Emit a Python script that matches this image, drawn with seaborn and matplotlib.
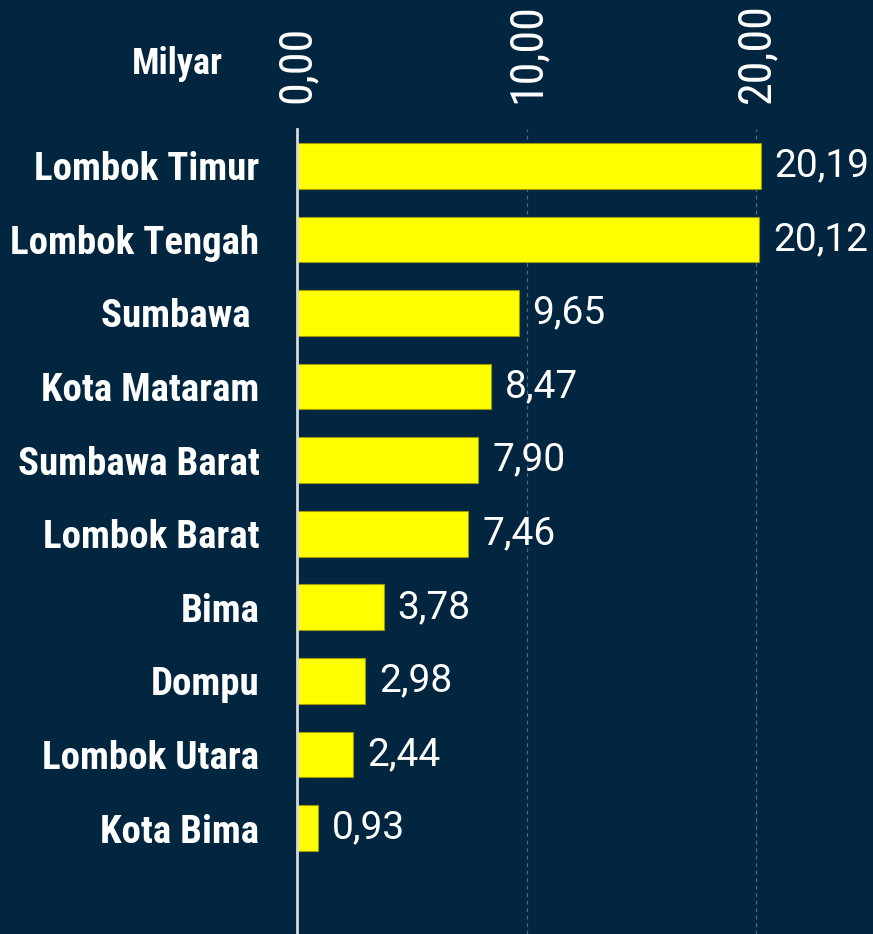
import matplotlib
matplotlib.use("Agg")
import matplotlib.pyplot as plt
import pandas as pd
import seaborn as sns


REGIONS = [
    "Lombok Timur",
    "Lombok Tengah",
    "Sumbawa ",
    "Kota Mataram",
    "Sumbawa Barat",
    "Lombok Barat",
    "Bima",
    "Dompu",
    "Lombok Utara",
    "Kota Bima",
]
VALUES = [20.19, 20.12, 9.65, 8.47, 7.90, 7.46, 3.78, 2.98, 2.44, 0.93]
X_TICKS = [0, 10, 20]
UNIT_LABEL = "Milyar"

BG = "#022640"
BAR = "#FFFF00"
CONDENSED = ["Roboto Condensed", "DejaVu Sans"]
REGULAR = ["Roboto", "DejaVu Sans"]


def comma(v):
    return f"{v:.2f}".replace(".", ",")


df = pd.DataFrame({"region": REGIONS, "value": VALUES})

sns.set_style("white")
plt.rcParams["font.family"] = CONDENSED

fig = plt.figure(figsize=(8.73, 9.34), dpi=100, facecolor=BG)
ax = fig.add_axes([297 / 873, 0, 574 / 873, 1 - 129 / 934])
ax.set_facecolor(BG)

sns.barplot(data=df, x="value", y="region", orient="h", color=BAR,
            width=0.62, edgecolor="#9a9a00", linewidth=0.8, ax=ax,
            saturation=1, zorder=3)

ax.set_xlim(0, 25)
ax.set_ylim(len(REGIONS) - 1 + 1.44, -0.5)

# value labels
ax.bar_label(ax.containers[0], labels=[comma(v) for v in VALUES],
             padding=10, color="white", fontsize=28, family=REGULAR)

# top axis with rotated tick labels
ax.xaxis.tick_top()
ax.set_xticks(X_TICKS)
ax.set_xticklabels([comma(t) for t in X_TICKS], rotation=90,
                   fontsize=33, color="white", family=CONDENSED)
ax.tick_params(axis="x", length=0, pad=19)
ax.tick_params(axis="y", length=0, pad=27)
for lab in ax.get_yticklabels():
    lab.set_fontsize(28)
    lab.set_fontweight("bold")
    lab.set_color("white")
    lab.set_family(CONDENSED)

ax.set_xlabel("")
ax.set_ylabel("")

# dashed gridlines at 10 and 20
for t in X_TICKS[1:]:
    ax.axvline(t, color="#4d6a80", lw=0.9, ls=(0, (3, 3)), zorder=1)

for side in ["top", "right", "bottom"]:
    ax.spines[side].set_visible(False)
ax.spines["left"].set_color("#d9d9d9")
ax.spines["left"].set_linewidth(2)
ax.spines["left"].set_zorder(4)

fig.text(177 / 873, 1 - 64 / 934, UNIT_LABEL, color="white", fontsize=26,
         fontweight="bold", family=CONDENSED, ha="center", va="center")

fig.savefig("out.png", dpi=100, facecolor=BG)
